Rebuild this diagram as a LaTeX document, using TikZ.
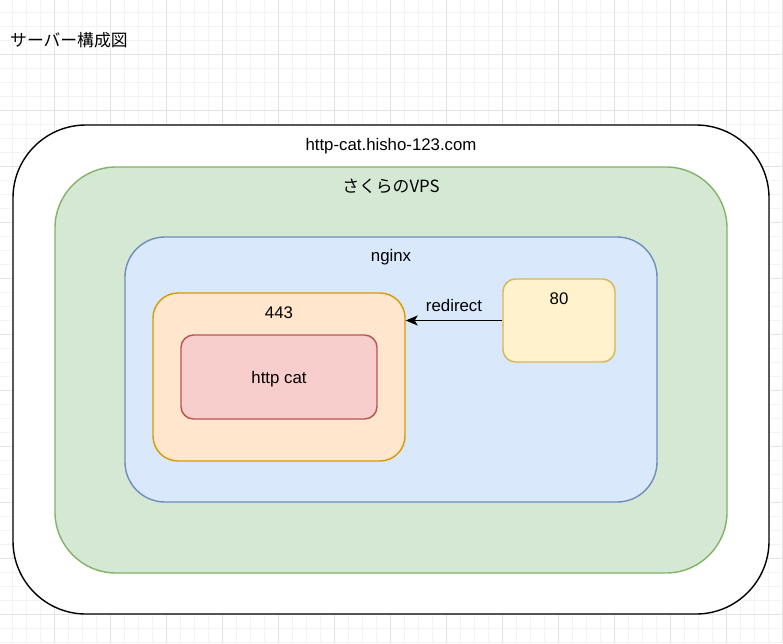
\documentclass[tikz,border=0pt]{standalone}
\usepackage{fontspec}
\setmainfont{Liberation Sans}
\newfontfamily\jp{Noto Sans CJK JP}
\definecolor{gridMinor}{HTML}{F3F3F3}
\definecolor{gridMajor}{HTML}{E3E3E3}
\definecolor{greenFill}{HTML}{D5E8D4}
\definecolor{greenLine}{HTML}{82B366}
\definecolor{blueFill}{HTML}{DAE8FC}
\definecolor{blueLine}{HTML}{6C8EBF}
\definecolor{orangeFill}{HTML}{FFE6CC}
\definecolor{orangeLine}{HTML}{D79B00}
\definecolor{redFill}{HTML}{F8CECC}
\definecolor{redLine}{HTML}{B85450}
\definecolor{yellowFill}{HTML}{FFF2CC}
\definecolor{yellowLine}{HTML}{D6B656}
\usetikzlibrary{arrows.meta}
\begin{document}
\begin{tikzpicture}
        [x=1pt, y=-1pt,
        box/.style={rectangle, draw, line width=1.4pt, inner sep=0pt},
        txt/.style={anchor=base, inner sep=0pt, font=\fontsize{16.8}{20}\selectfont},
        arrow/.style={line width=1.4pt, -{Stealth[length=12pt, width=10pt, inset=3pt]}}]
        \useasboundingbox (0,0) rectangle (783,643);
        \fill[white] (0,0) rectangle (783,643);
        % grid
        \foreach \g in {12,26,...,782} \draw[gridMinor, line width=0.8pt] (\g,0) -- (\g,643);
        \foreach \g in {12,26,...,642} \draw[gridMinor, line width=0.8pt] (0,\g) -- (783,\g);
        \foreach \g in {54,110,...,782} \draw[gridMajor, line width=0.8pt] (\g,0) -- (\g,643);
        \foreach \g in {54,110,...,642} \draw[gridMajor, line width=0.8pt] (0,\g) -- (783,\g);

        \node[txt, anchor=base west] (title) at (10,46) {\jp サーバー構成図};

        \node[box, fill=white, minimum width=756pt, minimum height=489pt, rounded corners=73pt] (host) at (391,369.5) {};
        \node[box, draw=greenLine, fill=greenFill, minimum width=672pt, minimum height=406pt, rounded corners=61pt] (vps) at (391,370) {};
        \node[box, draw=blueLine, fill=blueFill, minimum width=532pt, minimum height=265pt, rounded corners=40pt] (nginx) at (391,369.5) {};
        \node[box, draw=orangeLine, fill=orangeFill, minimum width=252pt, minimum height=168pt, rounded corners=25pt] (port443) at (279,377) {};
        \node[box, draw=redLine, fill=redFill, minimum width=196pt, minimum height=84pt, rounded corners=12.5pt] (app) at (279,377) {};
        \node[box, draw=yellowLine, fill=yellowFill, minimum width=112pt, minimum height=83pt, rounded corners=12.5pt] (port80) at (559,320.5) {};

        \node[txt] (hostLabel) at (391,150) {http-cat.hisho-123.com};
        \node[txt] (vpsLabel) at (391,192) {\jp さくらのVPS};
        \node[txt] (nginxLabel) at (391,261) {nginx};
        \node[txt] (label443) at (279,318) {443};
        \node[txt] (appLabel) at (279,383) {http cat};
        \node[txt] (label80) at (559,304) {80};

        \draw[arrow] (port80.west) -- (port443.east |- port80.west) node[midway, txt, yshift=9pt] (redirect) {redirect};

    \end{tikzpicture}
\end{document}
